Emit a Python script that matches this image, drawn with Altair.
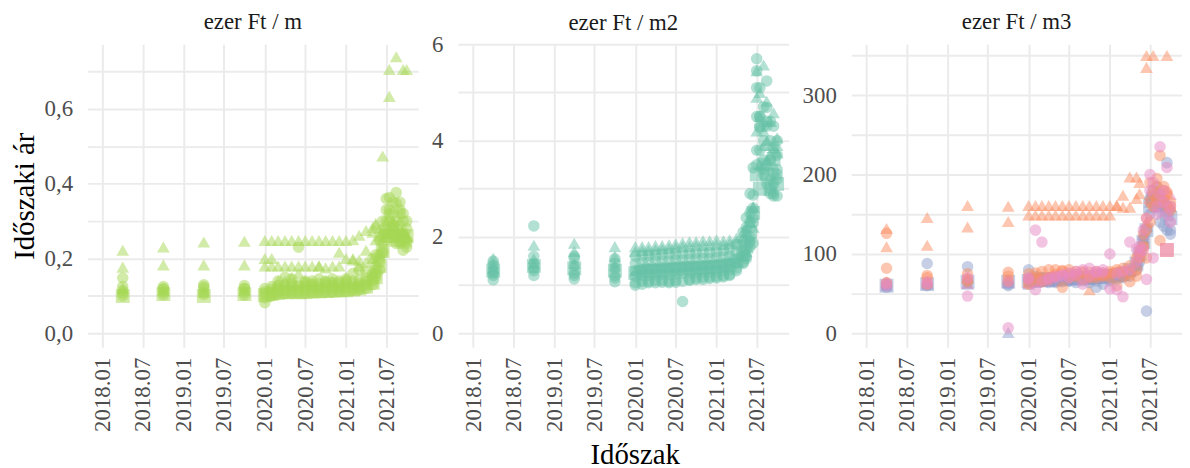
import altair as alt
import pandas as pd

N = None

# Dates of the observations (first of month; semi-monthly at the end)
dates = [
    "2018-04-01", "2018-10-01", "2019-04-01", "2019-10-01",
    "2020-01-01", "2020-02-01", "2020-03-01", "2020-04-01", "2020-05-01",
    "2020-06-01", "2020-07-01", "2020-08-01", "2020-09-01", "2020-10-01",
    "2020-11-01", "2020-12-01", "2021-01-01",
    "2021-02-01", "2021-03-01", "2021-04-01", "2021-05-01", "2021-05-15",
    "2021-06-01", "2021-06-15", "2021-07-01", "2021-07-15", "2021-08-01",
    "2021-08-15", "2021-09-01", "2021-09-15", "2021-10-01",
]

units = ["ezer Ft / m", "ezer Ft / m2", "ezer Ft / m3"]
colour_names = ["zöld", "türkiz", "narancs", "kék", "rózsaszín"]
colour_values = ["#a6d854", "#66c2a5", "#fc8d62", "#8da0cb", "#e78ac3"]
shape_names = ["kör", "háromszög", "négyzet"]
shape_symbols = ["circle", "triangle-up", "square"]
shape_sizes = [135, 195, 100]

# ---- panel 1: ezer Ft / m ----
p1_tri_a = [0.222, 0.231, 0.244, 0.246,
            0.248, 0.248, 0.248, 0.248, 0.248, 0.248, 0.248, 0.248, 0.248, 0.248, 0.248, 0.248, 0.248,
            0.25, 0.262, 0.275, 0.283, 0.294,
            N, 0.474, N, 0.705, N, 0.739, N, 0.705, 0.705]
p1_tri_b = [0.177, 0.183, 0.183, 0.183,
            0.20, 0.18, 0.18, 0.18, 0.18, 0.18, 0.18, 0.18, 0.18, 0.175, 0.18, 0.18, 0.20,
            0.196, 0.196, 0.222, 0.27, 0.289,
            0.28, N, 0.27, 0.633, 0.30, N, 0.28, 0.27, 0.26]
p1_tri_c = [0.12, 0.115, 0.11, 0.115,
            0.18, 0.20, 0.14, 0.14, 0.15, 0.16, 0.14, 0.135, 0.18, 0.14, 0.14, 0.217, 0.15,
            0.20, 0.18, 0.19, 0.20, 0.25,
            0.26, 0.28, 0.30, 0.27, 0.29, 0.28, 0.30, 0.27, 0.26]
p1_c1 = [0.125, 0.125, 0.13, 0.128,
         0.12, 0.125, 0.128, 0.13, 0.132, 0.13, 0.135, 0.132, 0.133, 0.135, 0.136, 0.135, 0.138,
         0.14, 0.142, 0.148, 0.16, 0.18,
         0.21, 0.26, 0.33, 0.363, 0.35, 0.376, 0.35, 0.32, 0.30]
p1_c2 = [0.115, 0.118, 0.12, 0.12,
         0.112, 0.118, 0.12, 0.122, 0.125, 0.125, 0.125, 0.127, 0.125, 0.128, 0.128, 0.13, 0.13,
         0.132, 0.133, 0.138, 0.15, 0.17,
         0.2, 0.24, 0.30, 0.33, 0.32, 0.347, 0.32, 0.30, 0.28]
p1_c3 = [0.108, 0.11, 0.11, 0.11,
         0.105, 0.11, 0.112, 0.115, 0.115, 0.117, 0.116, 0.118, 0.118, 0.12, 0.12, 0.12, 0.122,
         0.123, 0.125, 0.13, 0.14, 0.16,
         0.19, 0.22, 0.27, 0.30, 0.29, 0.30, 0.27, 0.25, 0.25]
p1_c4 = [0.10, 0.103, 0.104, 0.102,
         0.095, 0.102, 0.105, 0.107, 0.108, 0.108, 0.107, 0.109, 0.11, 0.11, 0.11, 0.112, 0.113,
         0.115, 0.116, 0.12, 0.13, 0.15,
         0.17, 0.214, 0.25, 0.27, 0.26, 0.24, 0.24, 0.222, 0.23]
p1_c5 = [0.148, 0.12, 0.125, 0.12,
         0.082, 0.10, 0.14, 0.15, 0.145, 0.23, 0.14, 0.14, 0.145, 0.14, 0.145, 0.14, 0.145,
         0.16, 0.17, 0.165, 0.2, 0.21,
         0.25, 0.3, 0.36, 0.32, 0.29, 0.26, 0.33, 0.27, 0.24]
p1_sq = [0.10, 0.105, 0.10, 0.105,
         0.102, 0.105, 0.108, 0.11, 0.11, 0.11, 0.11, 0.112, 0.112, 0.113, 0.114, 0.115, 0.115,
         0.117, 0.12, 0.125, 0.135, 0.15,
         0.18, 0.22, 0.26, 0.27, 0.26, 0.25, 0.26, 0.25, 0.26]

# ---- panel 2: ezer Ft / m2 ----
p2_tri_a = [1.56, 1.83, 1.87, 1.80,
            1.80, 1.80, 1.80, 1.82, 1.82, 1.84, 1.86, 1.88, 1.90, 1.90, 1.92, 1.92, 1.94,
            1.92, 1.94, 1.98, 2.1, 2.2,
            2.4, 2.62, 5.45, 5.0, 5.57, 4.82, 4.4, 4.58, 4.06]
p2_tri_b = [1.45, 1.55, 1.7, 1.6,
            1.7, 1.72, 1.72, 1.74, 1.75, 1.76, 1.78, 1.8, 1.8, 1.82, 1.83, 1.83, 1.85,
            1.84, 1.86, 1.9, 2.0, 2.1,
            2.3, 2.62, 4.9, 4.5, 4.2, 4.0, 3.9, 3.86, 3.75]
p2_tri_c = [1.35, 1.45, 1.45, 1.40,
            1.30, 1.35, 1.35, 1.36, 1.37, 1.38, 1.38, 1.40, 1.40, 1.42, 1.43, 1.44, 1.45,
            1.46, 1.48, 1.52, 1.6, 1.7,
            2.0, 2.2, 4.2, 3.5, 3.9, 3.6, 3.7, 3.5, 3.9]
p2_c1 = [1.5, 2.23, 1.6, 1.55,
         1.6, 1.62, 1.62, 1.63, 1.64, 1.65, 1.65, 1.66, 1.66, 1.67, 1.68, 1.68, 1.7,
         1.72, 1.75, 1.85, 2.1, 2.4,
         2.9, 3.44, 5.7, 5.1, 4.7, 5.24, 4.4, 4.3, 4.0]
p2_c2 = [1.4, 1.6, 1.55, 1.45,
         1.45, 1.47, 1.48, 1.5, 1.5, 1.5, 1.52, 1.52, 1.53, 1.54, 1.55, 1.55, 1.57,
         1.58, 1.6, 1.7, 1.9, 2.2,
         2.5, 2.87, 5.45, 4.5, 4.3, 4.69, 4.0, 3.84, 3.7]
p2_c3 = [1.3, 1.45, 1.4, 1.35,
         1.3, 1.32, 1.33, 1.34, 1.35, 1.35, 1.36, 1.37, 1.38, 1.38, 1.39, 1.4, 1.41,
         1.42, 1.44, 1.55, 1.7, 1.9,
         2.3, 2.6, 5.1, 4.27, 4.0, 4.3, 3.6, 3.31, 3.4]
p2_c4 = [1.2, 1.35, 1.25, 1.2,
         1.18, 1.2, 1.2, 1.21, 1.22, 1.22, 1.23, 1.24, 1.25, 1.26, 1.27, 1.28, 1.29,
         1.3, 1.32, 1.45, 1.6, 1.75,
         2.0, 2.4, 4.5, 3.8, 3.6, 3.5, 3.0, 2.9, 3.2]
p2_c5 = [1.11, 1.2, 1.13, 1.07,
         1.05, 1.08, 1.08, 1.1, 1.1, 1.05, 1.1, 0.66, 1.12, 1.15, 1.16, 1.17, 1.18,
         1.2, 1.22, 1.35, 1.48, 1.6,
         1.8, 1.87, 3.5, 4.3, 3.4, 3.1, 2.9, 2.85, 3.3]
p2_c6 = [1.25, 1.3, 1.2, 1.15,
         1.0, 1.02, 1.05, 1.05, 1.06, 1.08, 1.06, 1.08, 1.1, 1.12, 1.12, 1.14, 1.15,
         1.17, 1.2, 1.3, 1.45, 1.55,
         1.9, 2.3, 3.8, 4.5, 3.3, 4.4, 3.2, 3.1, 2.85]
p2_sq = [1.3, 1.4, 1.35, 1.3,
         1.25, 1.28, 1.3, 1.3, 1.3, 1.32, 1.33, 1.34, 1.35, 1.35, 1.36, 1.37, 1.38,
         1.4, 1.42, 1.5, 1.65, 1.8,
         2.1, 2.5, 3.3, 3.0, 3.5, 3.3, 3.0, 3.62, 3.1]

# ---- panel 3: ezer Ft / m3 ----
p3_tri_o1 = [132, 146, 161, 160,
             161, 161, 161, 161, 161, 161, 161, 161, 161, 161, 161, 161, 161,
             161, 174, 197, 197, 190,
             N, 350, N, 350, N, N, N, 350, N]
p3_tri_o2 = [109, 111, 134, 141,
             149, 149, 149, 149, 149, 149, 149, 149, 149, 149, 149, 149, 149,
             161, 159, 159, 170, 176,
             N, 335, N, N, N, N, N, N, N]
p3_tri_o3 = [65, 65, 70, 68,
             65, 70, 72, 72, 70, 72, 70, 72, 70, 55, 72, 72, 74,
             75, 76, 80, 90, 105,
             120, 140, 175, 170, 180, 175, 170, 165, 160]
p3_tri_b = [60, 62, 62, 1,
            62, 64, 65, 66, 66, 67, 67, 68, 68, 68, 69, 70, 70,
            72, 73, 78, 85, 100,
            120, 135, 165, 175, 165, 160, 170, 165, 160]
p3_tri_p = [62, 63, 63, 64,
            63, 65, 66, 66, 67, 68, 68, 69, 69, 70, 70, 71, 72,
            73, 74, 80, 88, 105,
            125, 140, 170, 160, 175, 170, 165, 160, 175]
p3_c_o1 = [126, 73, 75, 77,
           75, 76, 78, 80, 80, 79, 80, 78, 78, 77, 78, 76, 78,
           80, 82, 85, 95, 105,
           125, 145, 190, 175, 185, 224, 180, 160, 165]
p3_c_o2 = [82, 70, 68, 72,
           62, 66, 68, 70, 72, 58, 70, 72, 68, 70, 70, 72, 70,
           60, 72, 75, 80, 95,
           110, 130, 165, 180, 195, 117, 170, 175, 155]
p3_c_o3 = [64, 62, 65, 66,
           68, 70, 65, 68, 74, 78, 75, 74, 76, 72, 74, 74, 75,
           77, 78, 65, 72, 100,
           108, 95, 140, 160, 170, 165, 185, 178, 160]
p3_c_b1 = [58, 88, 84, 60,
           80, 72, 70, 68, 66, 68, 66, 64, 66, 64, 66, 62, 66,
           68, 70, 72, 80, 90,
           110, 28, 170, 180, 185, 175, 160, 215, 130]
p3_c_b2 = [62, 60, 65, 62,
           66, 66, 65, 64, 64, 65, 66, 67, 68, 68, 58, 69, 68,
           70, 72, 78, 85, 100,
           120, 130, 150, 165, 160, 140, 135, 130, 125]
p3_c_p1 = [60, 62, 47, 7,
           68, 130, 115, 68, 70, 72, 70, 74, 62, 72, 76, 80, 100,
           55, 46, 115, 106, 100,
           105, 68, 200, 190, 160, 235, 180, 209, 140]
p3_c_p2 = [63, 65, 70, 65,
           70, 55, 66, 70, 72, 74, 76, 78, 80, 82, 78, 76, 56,
           75, 78, 80, 90, 110,
           130, 145, 180, 95, 150, 175, 165, 150, 160]
p3_sq_b = [60, 62, 65, 65,
           66, 67, 68, 68, 68, 69, 70, 70, 70, 70, 71, 72, 72,
           73, 75, 80, 88, 100,
           115, 130, 160, 170, 165, 160, 155, 150, 145]
p3_sq_o = [N, N, N, N,
           N, N, N, N, N, N, N, N, N, N, N, N, N,
           N, N, N, N, N,
           N, N, N, N, N, N, N, 105, N]
p3_sq_p = [N, N, N, N,
           N, N, N, N, N, N, N, N, N, N, N, N, N,
           N, N, N, N, N,
           N, N, N, N, N, N, N, 105, N]

series = [
    (units[0], "zöld", "háromszög", p1_tri_a), (units[0], "zöld", "háromszög", p1_tri_b),
    (units[0], "zöld", "háromszög", p1_tri_c), (units[0], "zöld", "négyzet", p1_sq),
    (units[0], "zöld", "kör", p1_c1), (units[0], "zöld", "kör", p1_c2),
    (units[0], "zöld", "kör", p1_c3), (units[0], "zöld", "kör", p1_c4),
    (units[0], "zöld", "kör", p1_c5),
    (units[1], "türkiz", "háromszög", p2_tri_a), (units[1], "türkiz", "háromszög", p2_tri_b),
    (units[1], "türkiz", "háromszög", p2_tri_c), (units[1], "türkiz", "négyzet", p2_sq),
    (units[1], "türkiz", "kör", p2_c1), (units[1], "türkiz", "kör", p2_c2),
    (units[1], "türkiz", "kör", p2_c3), (units[1], "türkiz", "kör", p2_c4),
    (units[1], "türkiz", "kör", p2_c5), (units[1], "türkiz", "kör", p2_c6),
    (units[2], "narancs", "háromszög", p3_tri_o1), (units[2], "narancs", "háromszög", p3_tri_o2),
    (units[2], "kék", "négyzet", p3_sq_b),
    (units[2], "narancs", "háromszög", p3_tri_o3), (units[2], "kék", "háromszög", p3_tri_b),
    (units[2], "rózsaszín", "háromszög", p3_tri_p),
    (units[2], "kék", "kör", p3_c_b1), (units[2], "kék", "kör", p3_c_b2),
    (units[2], "narancs", "kör", p3_c_o1), (units[2], "narancs", "kör", p3_c_o2),
    (units[2], "narancs", "kör", p3_c_o3),
    (units[2], "rózsaszín", "kör", p3_c_p1), (units[2], "rózsaszín", "kör", p3_c_p2),
    (units[2], "narancs", "négyzet", p3_sq_o), (units[2], "rózsaszín", "négyzet", p3_sq_p),
]

rows = []
for unit, col, shp, vals in series:
    for d, v in zip(dates, vals):
        if v is not None:
            rows.append({"idoszak": d, "ar": v, "egyseg": unit, "anyag": col, "forma": shp})
df = pd.DataFrame(rows)

FONT = "Liberation Serif"

x_ticks = [alt.DateTime(year=y, month=m, date=1, utc=True)
           for y, m in [(2018, 1), (2018, 7), (2019, 1), (2019, 7),
                        (2020, 1), (2020, 7), (2021, 1), (2021, 7)]]
x_domain = [alt.DateTime(year=2017, month=10, date=24, utc=True),
            alt.DateTime(year=2021, month=11, date=22, utc=True)]

panel_specs = [
    (units[0], [-0.037, 0.772], [0, 0.1, 0.2, 0.3, 0.4, 0.5, 0.6, 0.7],
     "round(datum.value*10) % 2 == 0 ? replace(format(datum.value, '.1f'), '.', ',') : ''", 0),
    (units[1], [-0.29, 6.0], [0, 1, 2, 3, 4, 5, 6],
     "round(datum.value) % 2 == 0 ? format(datum.value, 'd') : ''", 11.5),
    (units[2], [-17.5, 364], [0, 50, 100, 150, 200, 250, 300, 350],
     "round(datum.value) % 100 == 0 ? format(datum.value, 'd') : ''", 0),
]

charts = []
for i, (unit, ydom, yvals, yexpr, tdy) in enumerate(panel_specs):
    common_y = dict(values=yvals, labelExpr=yexpr, labelPadding=15, labelFont=FONT,
                    labelFontSize=23, labelColor="#4d4d4d")
    if i == 0:
        yaxis = alt.Axis(title="Időszaki ár", titlePadding=5, titleFont=FONT, **common_y)
    else:
        yaxis = alt.Axis(title=None, **common_y)
    common_x = dict(values=x_ticks, labelExpr="utcFormat(datum.value, '%Y.%m')",
                    labelAngle=270, labelAlign="right", labelBaseline="middle",
                    labelPadding=10, labelOverlap=False, labelFlush=False,
                    labelFont=FONT, labelFontSize=23, labelColor="#4d4d4d")
    if i == 1:
        xaxis = alt.Axis(title="Időszak", titleX=178, titlePadding=9, titleFont=FONT, **common_x)
    else:
        xaxis = alt.Axis(title=None, **common_x)
    title_kw = dict(font=FONT, fontSize=23, fontWeight="normal", color="#1a1a1a",
                    anchor="middle", frame="group", offset=10)
    if tdy:
        title_kw["dy"] = tdy
    c = alt.Chart(df[df["egyseg"] == unit]).mark_point(
        filled=True, opacity=0.5, strokeWidth=0
    ).encode(
        x=alt.X("idoszak:T", scale=alt.Scale(type="utc", domain=x_domain), axis=xaxis),
        y=alt.Y("ar:Q", scale=alt.Scale(domain=ydom, nice=False, zero=False), axis=yaxis),
        color=alt.Color("anyag:N", scale=alt.Scale(domain=colour_names, range=colour_values),
                        legend=None),
        shape=alt.Shape("forma:N", scale=alt.Scale(domain=shape_names, range=shape_symbols),
                        legend=None),
        size=alt.Size("forma:N", scale=alt.Scale(domain=shape_names, range=shape_sizes),
                      legend=None),
    ).properties(
        width=333, height=305,
        title=alt.TitleParams(unit, **title_kw),
    )
    charts.append(c)

chart = alt.hconcat(*charts, spacing=13).properties(
    padding={"left": 2, "top": 2, "right": 0, "bottom": 0},
    background="white",
).configure(font=FONT).configure_view(stroke=None).configure_axis(
    labelFont=FONT, labelFontSize=23, labelColor="#4d4d4d",
    titleFont=FONT, titleFontSize=29, titleFontWeight="normal", titleColor="#000000",
    domain=False, ticks=False, grid=True, gridColor="#ebebeb", gridWidth=2,
).configure_title(font=FONT)

chart.save("out.html", embed_options={"renderer": "svg", "actions": False})
